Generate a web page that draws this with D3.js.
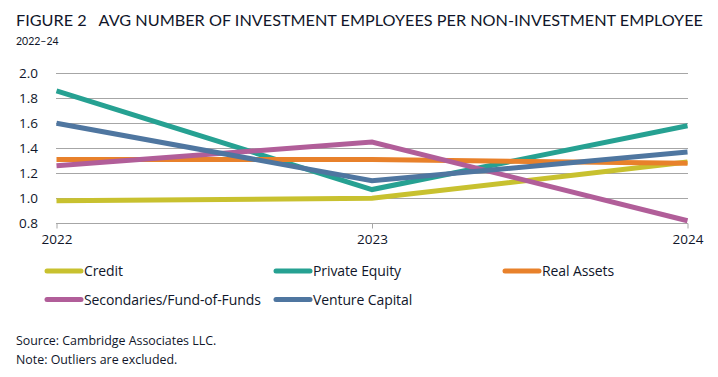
<!DOCTYPE html>
<html>
<head>
<meta charset="utf-8">
<script src="https://cdn.jsdelivr.net/npm/d3@7"></script>
<style>
  body { margin: 0; background: #fff; }
  text { fill: #10162a; }
</style>
</head>
<body>
<script>
const years = [2022, 2023, 2024]
const yTicks = [0.8, 1.0, 1.2, 1.4, 1.6, 1.8, 2.0]

const seriesNames = ['Credit', 'Private Equity', 'Real Assets', 'Secondaries/Fund-of-Funds', 'Venture Capital']
const seriesColors = ['#c8c12f', '#26a192', '#e8812b', '#b15e99', '#4f76a0']

const credit = [0.98, 1.0, 1.29]
const privateEquity = [1.86, 1.07, 1.58]
const realAssets = [1.31, 1.31, 1.28]
const secondaries = [1.26, 1.45, 0.82]
const ventureCapital = [1.6, 1.14, 1.37]

const seriesValues = [credit, privateEquity, realAssets, secondaries, ventureCapital]

const width = 718
const height = 377

const svg = d3.select('body')
  .append('svg')
  .attr('width', width)
  .attr('height', height)

// titles
svg.append('text')
  .attr('x', 16)
  .attr('y', 26)
  .attr('font-family', 'Lato')
  .attr('font-size', 15.5)
  .attr('textLength', 687)
  .attr('lengthAdjust', 'spacingAndGlyphs')
  .style('white-space', 'pre')
  .text('FIGURE 2   AVG NUMBER OF INVESTMENT EMPLOYEES PER NON-INVESTMENT EMPLOYEE')

svg.append('text')
  .attr('x', 16)
  .attr('y', 45)
  .attr('font-family', 'Lato')
  .attr('font-size', 10.5)
  .text('2022–24')

const x = d3.scalePoint()
  .domain(years)
  .range([56.5, 687.5])

const y = d3.scaleLinear()
  .domain([0.8, 2.0])
  .range([223.3, 73.3])

// gridlines
svg.append('g')
  .selectAll('line')
  .data(yTicks.slice(1))
  .enter()
  .append('line')
  .attr('x1', 56)
  .attr('x2', 688)
  .attr('y1', d => Math.round(y(d)) + 0.5)
  .attr('y2', d => Math.round(y(d)) + 0.5)
  .attr('stroke', '#a6a6a6')
  .attr('stroke-width', 1)

// y labels
svg.append('g')
  .selectAll('text')
  .data(yTicks)
  .enter()
  .append('text')
  .attr('x', 38)
  .attr('y', d => y(d) + 5)
  .attr('text-anchor', 'end')
  .attr('font-family', 'Open Sans')
  .attr('font-size', 13.5)
  .text(d => d.toFixed(1))

// x axis
const xAxis = svg.append('g')
  .attr('transform', `translate(0,${Math.round(y(0.8)) + 0.5})`)
  .call(d3.axisBottom(x).tickSize(5).tickPadding(6).tickSizeOuter(0))

xAxis.select('.domain').attr('stroke', '#a6a6a6').attr('d', 'M56,0H688')
xAxis.selectAll('.tick line').attr('stroke', '#a6a6a6')
xAxis.selectAll('.tick text')
  .attr('font-family', 'Open Sans')
  .attr('font-size', 13.5)
  .attr('fill', '#10162a')

// lines
const line = d3.line()
  .x((d, i) => x(years[i]))
  .y(d => y(d))

svg.append('g')
  .selectAll('path')
  .data(seriesValues)
  .enter()
  .append('path')
  .attr('d', d => line(d))
  .attr('fill', 'none')
  .attr('stroke', (d, i) => seriesColors[i])
  .attr('stroke-width', 5)

// legend
const legendPos = [[45, 271], [274, 271], [503, 271], [45, 299.5], [274, 299.5]]

const legend = svg.append('g')
  .selectAll('g')
  .data(seriesNames)
  .enter()
  .append('g')
  .attr('transform', (d, i) => `translate(${legendPos[i][0]},${legendPos[i][1]})`)

legend.append('line')
  .attr('x1', 2)
  .attr('x2', 36)
  .attr('stroke', (d, i) => seriesColors[i])
  .attr('stroke-width', 5)
  .attr('stroke-linecap', 'round')

legend.append('text')
  .attr('x', 39)
  .attr('y', 5)
  .attr('font-family', 'Open Sans')
  .attr('font-size', 14)
  .attr('letter-spacing', -0.1)
  .text(d => d)

// notes
svg.append('text')
  .attr('x', 16)
  .attr('y', 345)
  .attr('font-family', 'Open Sans')
  .attr('font-size', 12.4)
  .text('Source: Cambridge Associates LLC.')

svg.append('text')
  .attr('x', 16)
  .attr('y', 364)
  .attr('font-family', 'Open Sans')
  .attr('font-size', 12.4)
  .text('Note: Outliers are excluded.')
</script>
</body>
</html>
